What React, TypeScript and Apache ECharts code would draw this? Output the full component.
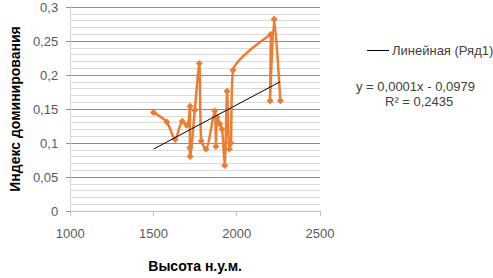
import React, { useEffect, useRef } from "react";
import * as echarts from "echarts";

const altitude = [1500, 1580, 1630, 1673, 1700, 1720, 1718, 1720, 1748, 1775, 1787, 1815, 1868, 1875, 1882, 1898, 1912, 1928, 1942, 1955, 1965, 1978, 2205, 2200, 2225, 2262];
const dominance = [0.145, 0.131, 0.105, 0.132, 0.126, 0.154, 0.093, 0.080, 0.148, 0.217, 0.103, 0.091, 0.147, 0.095, 0.138, 0.128, 0.120, 0.067, 0.176, 0.091, 0.100, 0.207, 0.260, 0.162, 0.282, 0.162];
const trendX = [1500, 2260];
const trendY = [0.091, 0.190];
const seriesName = "Ряд1";
const trendName = "Линейная (Ряд1)";
const equationLines = ["y = 0,0001x - 0,0979", "R² = 0,2435"];
const xTitle = "Высота н.у.м.";
const yTitle = "Индекс доминирования";

const FONT = "Liberation Sans, Arial, sans-serif";

export default function App() {
  const ref = useRef<HTMLDivElement>(null);
  useEffect(() => {
    if (!ref.current) return;
    const chart = echarts.init(ref.current, null, { renderer: "svg" });
    const comma = (v: number) => String(Math.round(v * 1000) / 1000).replace(".", ",");
    chart.setOption({
      animation: false,
      backgroundColor: "#ffffff",
      textStyle: { fontFamily: FONT },
      grid: { left: 57, right: 173, top: 7, bottom: 58, containLabel: false },
      legend: {
        data: [{ name: trendName, icon: "rect" }],
        left: 362,
        top: 39,
        itemWidth: 22,
        itemHeight: 1,
        itemGap: 0,
        textStyle: { fontFamily: FONT, fontSize: 13, color: "#404040", padding: [0, 0, 0, -2] },
      },
      xAxis: {
        type: "value",
        min: 1000,
        max: 2500,
        interval: 500,
        name: xTitle,
        nameLocation: "middle",
        nameGap: 48,
        nameTextStyle: { fontFamily: FONT, fontSize: 14, fontWeight: "bold", color: "#000" },
        axisLine: { show: true, onZero: false, lineStyle: { color: "#bfbfbf", width: 1 } },
        axisTick: { show: true, length: 5, lineStyle: { color: "#bfbfbf" } },
        axisLabel: { fontFamily: FONT, fontSize: 13, color: "#595959", margin: 16, formatter: (v: number) => String(v) },
        splitLine: { show: false },
      },
      yAxis: {
        type: "value",
        min: 0,
        max: 0.3,
        interval: 0.05,
        name: yTitle,
        nameLocation: "middle",
        nameGap: 44,
        nameTextStyle: { fontFamily: FONT, fontSize: 14, fontWeight: "bold", color: "#000" },
        axisLine: { show: true, lineStyle: { color: "#d9d9d9", width: 1 } },
        axisTick: { show: true, length: 4, lineStyle: { color: "#8c8c8c" } },
        axisLabel: { fontFamily: FONT, fontSize: 13, color: "#595959", margin: 12, formatter: comma },
        splitLine: { show: true, lineStyle: { color: "#8c8c8c", width: 1 } },
        minorTick: { show: false, splitNumber: 5 },
        minorSplitLine: { show: true, lineStyle: { color: "#d9d9d9", width: 1 } },
      },
      series: [
        {
          name: seriesName,
          type: "line",
          data: altitude.map((x, i) => [x, dominance[i]]),
          smooth: 0.25,
          symbol: "diamond",
          symbolSize: 7,
          itemStyle: { color: "#ED7D31" },
          lineStyle: { color: "#ED7D31", width: 2.5 },
          z: 3,
        },
        {
          name: trendName,
          type: "line",
          data: trendX.map((x, i) => [x, trendY[i]]),
          symbol: "none",
          itemStyle: { color: "#000000" },
          lineStyle: { color: "#000000", width: 1 },
          z: 4,
        },
      ],
      graphic: [
        {
          type: "text",
          left: 356,
          top: 80,
          style: { text: equationLines[0], fontFamily: FONT, fontSize: 13, fill: "#404040" },
        },
        {
          type: "text",
          left: 385,
          top: 95,
          style: { text: equationLines[1], fontFamily: FONT, fontSize: 13, fill: "#404040" },
        },
      ],
    });
    return () => chart.dispose();
  }, []);
  return <div ref={ref} style={{ width: 493, height: 278, position: "absolute", left: 0, top: 0 }} />;
}
